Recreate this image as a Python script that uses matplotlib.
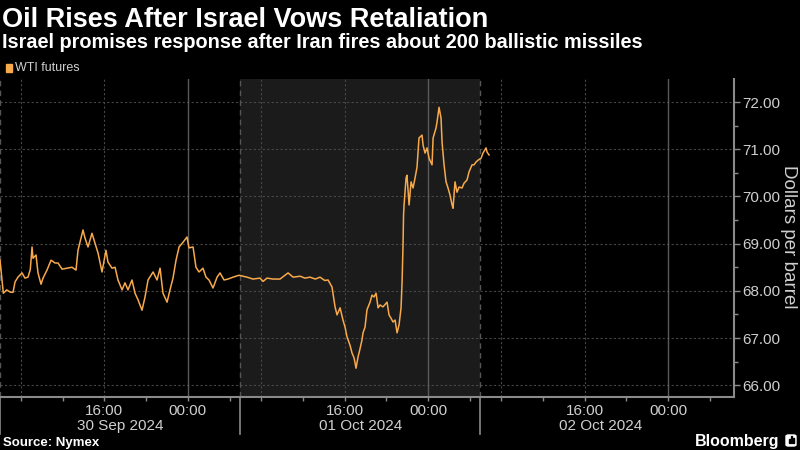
import matplotlib
matplotlib.use("Agg")
import matplotlib.pyplot as plt
import matplotlib.transforms as mtransforms
from matplotlib.patches import Rectangle, FancyBboxPatch
from matplotlib.ticker import FormatStrFormatter, MultipleLocator

# --------------------------------
# Data (hours since 06:00 on 30 Sep, trading hours only; 23h sessions)
# --------------------------------
hours = [0, 0.32, 0.64, 1.0, 1.25, 1.44, 1.72, 2.11, 2.39, 2.68, 2.9, 3.07, 3.16,
         3.45, 3.64, 3.93, 4.12, 4.50, 4.89, 5.27, 5.56, 5.94, 6.42, 6.90, 7.28,
         7.47, 7.95, 8.14, 8.43, 8.81, 9.10, 9.39, 9.77, 10.15, 10.34, 10.73,
         11.02, 11.30, 11.69, 11.97, 12.26, 12.64, 12.93, 13.22, 13.60, 13.89,
         14.18, 14.66, 15.04, 15.33, 15.61, 16.00, 16.28, 16.57, 16.86, 17.15,
         17.53, 17.91, 18.10, 18.49, 18.77, 19.06, 19.44, 19.73, 20.02, 20.40,
         20.79, 21.07, 21.46, 21.84, 22.32, 22.89,
         23.66, 24.23, 24.90, 25.2, 25.57, 26.15, 26.82, 27.59, 28.07, 28.74,
         29.2, 29.69, 30.2, 30.65, 31.1, 31.42, 31.80, 32.09, 32.28, 32.57,
         32.85, 33.05, 33.24, 33.52, 33.72, 33.91, 34.10, 34.29, 34.48, 34.67,
         34.77, 34.96, 35.15, 35.44, 35.63, 35.82, 36.02, 36.21, 36.40, 36.68,
         37.07, 37.26, 37.45, 37.64, 37.84, 38.03, 38.22, 38.41, 38.51, 38.60,
         38.65, 38.70, 38.89, 38.98, 39.18, 39.37, 39.56, 39.75, 39.94, 40.13,
         40.42, 40.52, 40.71, 40.90, 41.09, 41.38, 41.48, 41.76, 41.86, 42.05,
         42.24, 42.34, 42.53, 42.72, 42.91, 43.10, 43.30, 43.39, 43.58, 43.77,
         43.97, 44.25, 44.44, 44.73, 44.92, 45.21, 45.40, 45.59, 45.79, 46.07,
         46.26, 46.55, 46.65, 46.84]

wti = [68.65, 67.95, 68.02, 67.97, 67.97, 68.19, 68.29, 68.38, 68.27, 68.29, 68.45,
       68.93, 68.69, 68.76, 68.38, 68.14, 68.27, 68.44, 68.65, 68.59, 68.59, 68.46,
       68.48, 68.50, 68.44, 68.86, 69.29, 69.12, 68.93, 69.22, 69.01, 68.80, 68.40,
       68.86, 68.61, 68.48, 68.50, 68.23, 68.02, 68.17, 68.02, 68.23, 67.95, 67.81,
       67.59, 67.87, 68.23, 68.40, 68.23, 68.48, 67.95, 67.76, 68.02, 68.27, 68.65,
       68.93, 69.03, 69.14, 68.91, 68.93, 68.50, 68.40, 68.48, 68.29, 68.23, 68.06,
       68.29, 68.38, 68.23, 68.25, 68.29, 68.33,
       68.29, 68.25, 68.27, 68.20, 68.27, 68.25, 68.25, 68.38, 68.29, 68.31, 68.27,
       68.29, 68.25, 68.29, 68.22, 68.23, 68.08, 67.66, 67.49, 67.64, 67.38, 67.23,
       67.02, 66.85, 66.68, 66.58, 66.36, 66.60, 66.77, 66.96, 67.11, 67.23, 67.60,
       67.76, 67.91, 67.87, 67.95, 67.64, 67.70, 67.66, 67.76, 67.49, 67.42, 67.34,
       67.38, 67.11, 67.28, 67.64, 68.19, 68.97, 69.61, 69.82, 70.39, 70.45, 69.82,
       70.31, 70.18, 70.39, 70.62, 71.24, 71.30, 71.09, 70.92, 71.03, 70.81, 70.67,
       71.24, 71.45, 71.58, 71.89, 71.66, 71.15, 70.67, 70.31, 70.18, 70.03, 69.82,
       69.75, 70.31, 70.09, 70.20, 70.18, 70.28, 70.35, 70.52, 70.67, 70.67, 70.73,
       70.77, 70.81, 70.92, 71.03, 70.94, 70.88]

session_starts = [0, 23, 46]
day_labels = ["30 Sep 2024", "01 Oct 2024", "02 Oct 2024"]
y_ticks = [66, 67, 68, 69, 70, 71, 72]

line_color = "#f7a94b"
grid_color = "#474747"
text_color = "#cfcfcf"
font = ["Liberation Sans", "DejaVu Sans"]
plt.rcParams["font.family"] = font

# --------------------------------
# Figure
# --------------------------------
fig = plt.figure(figsize=(8, 4.5), dpi=100, facecolor="black")
ax = fig.add_axes([0, 1 - 397 / 450, 734 / 800, 318 / 450])
ax.set_facecolor("black")

ax.set_xlim(0, 70.3)
ax.set_ylim(65.75, 72.49)

# shaded session (01 Oct)
ax.axvspan(23, 46, color="#1b1b1b", zorder=0, lw=0)

# horizontal grid
for v in y_ticks:
    ax.axhline(v, color=grid_color, lw=0.8, ls=(0, (2, 2)), zorder=1)

# vertical grid: 08:00 / 16:00 dotted, 00:00 solid
for s in session_starts:
    for off in (2, 10):
        ax.axvline(s + off, color=grid_color, lw=0.8, ls=(0, (2, 2)), zorder=1)
    ax.axvline(s + 18, color="#5a5a5a", lw=1.0, zorder=1)
    ax.axvline(s, color="#555555", lw=1.0, ls=(0, (4, 3)), zorder=1)

ax.plot(hours, wti, color=line_color, lw=1.1, zorder=3)

# spines
for side in ("top", "left"):
    ax.spines[side].set_visible(False)
for side in ("right", "bottom"):
    ax.spines[side].set_color("#8a8a8a")
    ax.spines[side].set_linewidth(1.5)

# y axis on the right
ax.yaxis.tick_right()
ax.set_yticks(y_ticks)
ax.yaxis.set_minor_locator(MultipleLocator(0.5))
ax.yaxis.set_major_formatter(FormatStrFormatter("%.2f"))
ax.tick_params(axis="y", which="major", length=4, width=1, color="#8a8a8a",
               labelcolor=text_color, labelsize=11, pad=2)
ax.tick_params(axis="y", which="minor", length=3, width=1, color="#8a8a8a")
fig.text(789 / 800, 1 - 237 / 450, "Dollars per barrel", rotation=270,
         color=text_color, fontsize=13.5, ha="center", va="center")

# x axis ticks every 4h
xt, xl = [], []
for s in session_starts:
    for off in (2, 6, 10, 14, 18, 22):
        xt.append(s + off)
        xl.append("16:00" if off == 10 else ("00:00" if off == 18 else ""))
ax.set_xticks(xt)
ax.set_xticklabels(xl)
ax.tick_params(axis="x", length=3, width=1, color="#8a8a8a",
               labelcolor=text_color, labelsize=11, pad=2)

trans = mtransforms.blended_transform_factory(ax.transData, ax.transAxes)
for s, lab in zip(session_starts, day_labels):
    ax.text(s + 11.5, -0.092, lab, transform=trans, ha="center", va="center",
            color=text_color, fontsize=11)
    ax.plot([s, s], [0, -0.115], transform=trans, clip_on=False,
            color="#8a8a8a", lw=1.2)

# --------------------------------
# Header and footer text
# --------------------------------
fig.text(0.003, 1 - 27 / 450, "Oil Rises After Israel Vows Retaliation",
         color="white", fontsize=19.5, fontweight="bold", va="baseline")
fig.text(0.003, 1 - 48 / 450,
         "Israel promises response after Iran fires about 200 ballistic missiles",
         color="white", fontsize=14.3, fontweight="bold", va="baseline")

fig.patches.append(Rectangle((6 / 800, 1 - 72 / 450), 6 / 800, 8 / 450,
                             transform=fig.transFigure, color=line_color))
fig.text(15 / 800, 1 - 68 / 450, "WTI futures", color=text_color, fontsize=9,
         va="center")

fig.text(3 / 800, 1 - 446 / 450, "Source: Nymex", color="white", fontsize=9.5,
         fontweight="bold", va="baseline")
fig.text(779 / 800, 1 - 446 / 450, "Bloomberg", color="white", fontsize=11.5,
         fontweight="bold", va="baseline", ha="right")

# small logo box
fig.patches.append(FancyBboxPatch((786 / 800, 1 - 446 / 450), 10 / 800, 11 / 450,
                                  boxstyle="round,pad=0,rounding_size=0.003",
                                  transform=fig.transFigure, color="white"))
for bx, bh in ((788.5, 4), (790.5, 7), (792.5, 5)):
    fig.patches.append(Rectangle((bx / 800, 1 - 443 / 450), 1.2 / 800, bh / 450,
                                 transform=fig.transFigure, color="black"))

fig.savefig("out.png", dpi=100, facecolor="black")
